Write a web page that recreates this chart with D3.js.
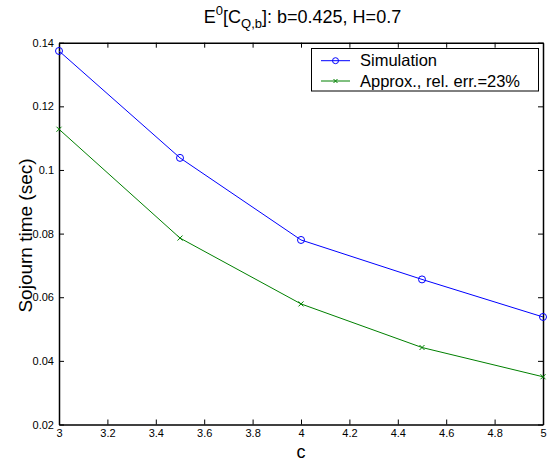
<!DOCTYPE html>
<html><head><meta charset="utf-8">
<script src="https://cdn.jsdelivr.net/npm/d3@7"></script>
<style>body{margin:0;background:#fff}svg{display:block}text{font-family:"Liberation Sans",Arial,sans-serif}</style>
</head><body>
<svg id="chart" width="555" height="466"></svg>
<script>
const cValues = [3, 3.5, 4, 4.5, 5];
const simulation = [0.1374, 0.1038, 0.0780, 0.0656, 0.0538];
const approx = [0.1128, 0.0786, 0.0579, 0.0442, 0.0350];
const xTicks = [3, 3.2, 3.4, 3.6, 3.8, 4, 4.2, 4.4, 4.6, 4.8, 5];
const yTicks = [0.02, 0.04, 0.06, 0.08, 0.1, 0.12, 0.14];
const seriesNames = ["Simulation", "Approx., rel. err.=23%"];
const seriesColors = ["#0000ff", "#008000"];

const svg = d3.select("#chart");
const m = {left: 59, right: 543, top: 42.7, bottom: 424.5};
const x = d3.scaleLinear().domain([3, 5]).range([m.left, m.right]);
const y = d3.scaleLinear().domain([0.02, 0.14]).range([m.bottom, m.top]);

const fmt = d => String(+d.toFixed(2));
const gB = svg.append("g").attr("transform", `translate(0,${m.bottom})`)
  .call(d3.axisBottom(x).tickValues(xTicks).tickSizeInner(-5).tickSizeOuter(0).tickPadding(5).tickFormat(fmt));
const gT = svg.append("g").attr("transform", `translate(0,${m.top})`)
  .call(d3.axisTop(x).tickValues(xTicks).tickSizeInner(-5).tickSizeOuter(0).tickFormat(""));
const gL = svg.append("g").attr("transform", `translate(${m.left},0)`)
  .call(d3.axisLeft(y).tickValues(yTicks).tickSizeInner(-5).tickSizeOuter(0).tickPadding(5).tickFormat(fmt));
const gR = svg.append("g").attr("transform", `translate(${m.right},0)`)
  .call(d3.axisRight(y).tickValues(yTicks).tickSizeInner(-5).tickSizeOuter(0).tickFormat(""));
[gB, gT, gL, gR].forEach(g => {
  g.select(".domain").attr("stroke", "#000").attr("stroke-width", 1.5);
  g.selectAll(".tick line").attr("stroke", "#000").attr("stroke-width", 1);
  g.selectAll(".tick text").attr("fill", "#000").style("font-size", "11px")
    .style("font-family", '"Liberation Sans",Arial,sans-serif');
});
gB.selectAll(".tick text").attr("dy", "0.71em");
gL.selectAll(".tick text").attr("dy", "0.32em");

const series = [simulation, approx];
const line = d3.line().x((d, i) => x(cValues[i])).y(d => y(d));
series.forEach((vals, k) => {
  svg.append("path").datum(vals).attr("d", line).attr("fill", "none")
    .attr("stroke", seriesColors[k]).attr("stroke-width", 1);
});
svg.append("g").selectAll("circle").data(simulation).join("circle")
  .attr("cx", (d, i) => x(cValues[i])).attr("cy", d => y(d)).attr("r", 3.5)
  .attr("fill", "none").attr("stroke", seriesColors[0]).attr("stroke-width", 1);
const cross = (g, cx, cy, s, col) => {
  g.append("path").attr("d", `M${cx - s},${cy - s}L${cx + s},${cy + s}M${cx - s},${cy + s}L${cx + s},${cy - s}`)
    .attr("stroke", col).attr("stroke-width", 1).attr("fill", "none");
};
const gx = svg.append("g");
approx.forEach((d, i) => cross(gx, x(cValues[i]), y(d), 2.5, seriesColors[1]));

// title
const title = svg.append("text").attr("x", 302.5).attr("y", 23).attr("text-anchor", "middle")
  .style("font-size", "18px").attr("fill", "#000");
title.append("tspan").text("E");
title.append("tspan").attr("dy", -8).style("font-size", "13px").text("0");
title.append("tspan").attr("dy", 8).text("[C");
title.append("tspan").attr("dy", 5).style("font-size", "13px").text("Q,b");
title.append("tspan").attr("dy", -5).text("]: b=0.425, H=0.7");

// axis labels
svg.append("text").attr("x", x(4)).attr("y", 457.5).attr("text-anchor", "middle")
  .style("font-size", "18px").attr("fill", "#000").text("c");
svg.append("text").attr("transform", `translate(32,${235.5}) rotate(-90)`)
  .attr("text-anchor", "middle").style("font-size", "19px").attr("fill", "#000").text("Sojourn time (sec)");

// legend
const lg = svg.append("g");
lg.append("rect").attr("x", 311.5).attr("y", 48.5).attr("width", 227).attr("height", 42.5)
  .attr("fill", "#fff").attr("stroke", "#000").attr("stroke-width", 1);
seriesNames.forEach((name, k) => {
  const ly = 60.7 + k * 20.3;
  lg.append("line").attr("x1", 321).attr("x2", 350).attr("y1", ly).attr("y2", ly)
    .attr("stroke", seriesColors[k]).attr("stroke-width", 1);
  if (k === 0) lg.append("circle").attr("cx", 335.5).attr("cy", ly).attr("r", 3)
    .attr("fill", "none").attr("stroke", seriesColors[k]);
  else cross(lg, 335.5, ly, 2, seriesColors[k]);
  lg.append("text").attr("x", 360).attr("y", ly).attr("dy", "0.35em")
    .style("font-size", "16.5px").attr("fill", "#000").text(name);
});
</script>
</body></html>
